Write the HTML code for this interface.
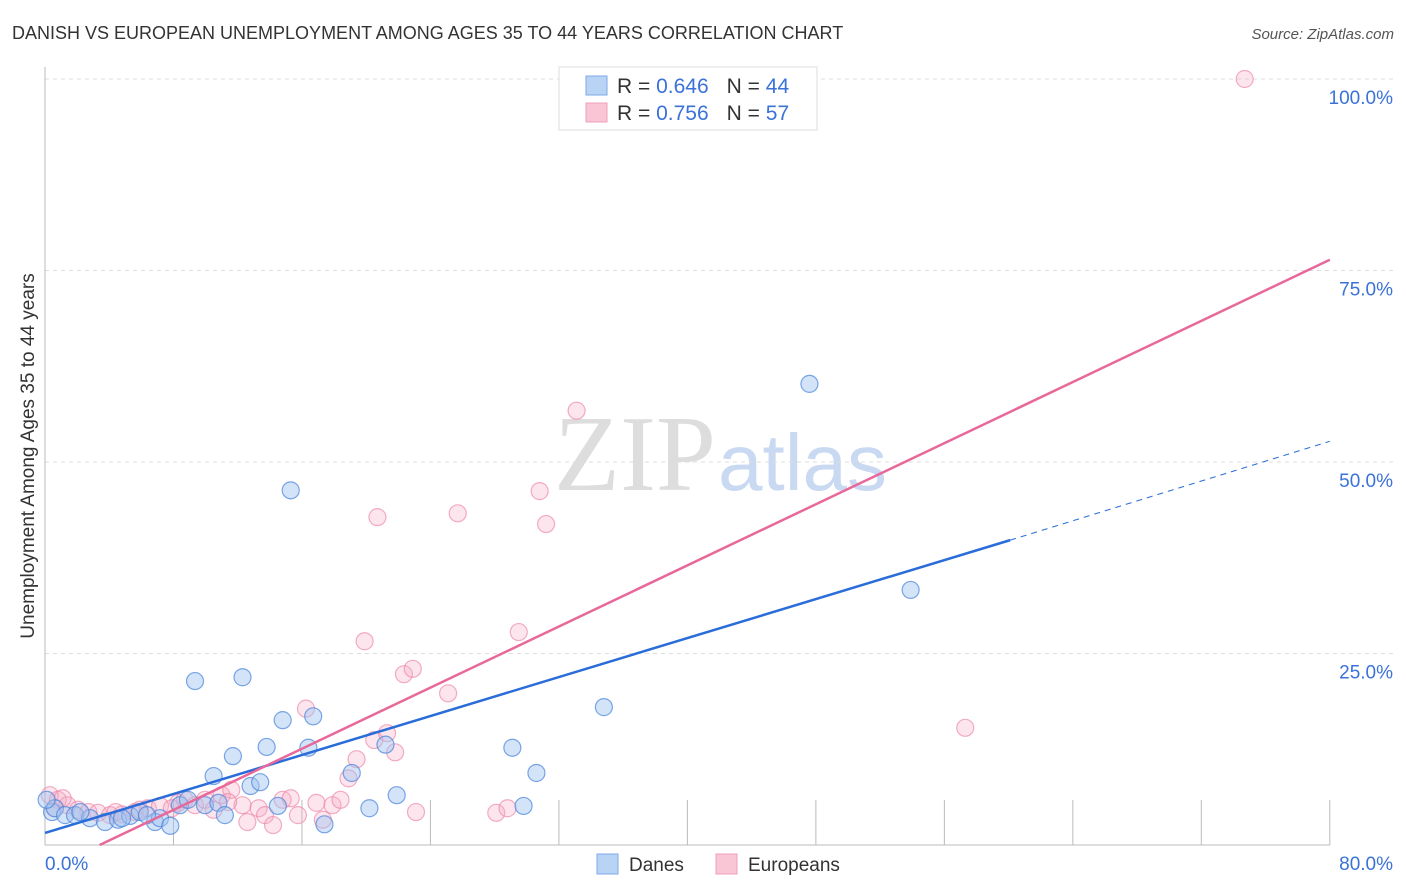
<!DOCTYPE html>
<html><head><meta charset="utf-8"><style>
body{margin:0;background:#fff;font-family:"Liberation Sans",sans-serif;}
#c{position:absolute;left:0;top:0;}
</style></head><body>
<svg id="c" width="1406" height="892">
<text x="12" y="39" font-size="18" fill="#333">DANISH VS EUROPEAN UNEMPLOYMENT AMONG AGES 35 TO 44 YEARS CORRELATION CHART</text>
<text x="1394" y="39" font-size="15" fill="#555" font-style="italic" text-anchor="end">Source: ZipAtlas.com</text>
<text x="716" y="490" font-size="108" fill="#ddd" text-anchor="end" font-family="Liberation Serif,serif">ZIP</text>
<text x="718" y="490" font-size="80" fill="#c9d9f2">atlas</text>
<g id="grid"></g><g id="axes"></g><g id="pts"></g><g id="lines"></g>
<g>
<rect x="559" y="67" width="258" height="63" fill="#fff" stroke="#ddd"/>
<rect x="586" y="76" width="21" height="19" fill="#b9d3f5" stroke="#7ea9e8"/>
<rect x="586" y="103" width="21" height="19" fill="#f9c6d6" stroke="#ef9fbb"/>
<text x="617" y="93" font-size="21" fill="#333">R = <tspan fill="#3a72d8">0.646</tspan><tspan dx="18">N = </tspan><tspan fill="#3a72d8">44</tspan></text>
<text x="617" y="120" font-size="21" fill="#333">R = <tspan fill="#3a72d8">0.756</tspan><tspan dx="18">N = </tspan><tspan fill="#3a72d8"> 57</tspan></text>
</g>
<g>
<rect x="597" y="854" width="21" height="20" fill="#b9d3f5" stroke="#7ea9e8"/>
<text x="629" y="871" font-size="19" fill="#333">Danes</text>
<rect x="716" y="854" width="21" height="20" fill="#f9c6d6" stroke="#ef9fbb"/>
<text x="748" y="871" font-size="19" fill="#333">Europeans</text>
</g>
<text x="34" y="456" font-size="19" fill="#333" text-anchor="middle" transform="rotate(-90 34 456)">Unemployment Among Ages 35 to 44 years</text>
</svg>
<script>
const yTicks=[25,50,75,100];
const yTickLabels=["25.0%","50.0%","75.0%","100.0%"];
const xTicks=[0,8,16,24,32,40,48,56,64,72,80];
const xEndLabels=["0.0%","80.0%"];
const danesX=[0.44,0.62,1.25,1.87,2.8,3.74,4.55,5.3,5.9,6.85,7.16,7.8,8.4,8.9,9.34,9.96,10.5,10.8,11.2,11.7,12.3,12.8,13.4,13.8,14.5,14.8,15.3,16.4,16.7,17.4,19.1,20.2,21.2,21.9,29.1,29.8,30.6,34.8,47.6,53.9,0.1,2.2,4.8,6.35];
const danesY=[4.3,4.8,3.9,3.9,3.5,3.0,3.3,3.8,4.3,3.0,3.5,2.5,5.2,5.9,21.4,5.2,9.0,5.5,3.9,11.6,21.9,7.7,8.2,12.8,5.1,16.3,46.3,12.7,16.8,2.7,9.4,4.8,13.1,6.5,12.7,5.1,9.4,18.0,60.2,33.3,5.9,4.3,3.5,3.9];
const euroX=[0.3,0.8,1.4,2.05,2.7,3.3,4.05,4.8,5.6,6.4,7.16,7.9,8.7,9.34,9.96,10.5,11.0,11.6,12.3,12.6,13.3,13.7,14.2,14.8,15.3,15.75,16.25,16.9,17.3,17.9,18.4,18.9,19.4,19.9,20.5,20.7,21.3,21.8,22.35,22.9,23.1,25.1,25.7,28.1,28.8,29.5,30.8,31.2,33.1,57.3,74.7,4.4,5.9,8.3,11.4,0.6,1.1];
const euroY=[6.5,5.9,5.2,4.6,4.3,4.2,3.9,4.0,4.3,4.8,5.1,4.8,5.9,5.2,5.9,4.6,6.5,7.2,5.2,3.0,4.8,3.9,2.6,5.9,6.1,3.9,17.8,5.5,3.3,5.2,5.9,8.7,11.2,26.6,13.7,42.8,14.6,12.1,22.3,23.0,4.3,19.8,43.3,4.2,4.8,27.8,46.2,41.9,56.7,15.3,100,4.3,4.6,5.5,5.6,4.8,6.1];
const danesTrend=[[0,1.57],[60.1,39.8],[80,52.7]];
const euroTrend=[[3.4,0],[80,76.4]];
const X=v=>45+v*16.06, Y=v=>845-v*7.66;
const NS="http://www.w3.org/2000/svg";
function mk(tag,at,parent){const e=document.createElementNS(NS,tag);for(const k in at)e.setAttribute(k,at[k]);document.getElementById(parent).appendChild(e);return e;}
yTicks.forEach((t,i)=>{
 const g=mk('line',{x1:45,x2:1393,y1:Y(t),y2:Y(t),stroke:'#ddd','stroke-dasharray':'4,4'},'grid');
 
 
 const l=mk('text',{x:1393,y:Y(t)+25,'font-size':19,fill:'#3a72d8','text-anchor':'end'},'axes');
 l.textContent=yTickLabels[i];
 
 
});
const yl=mk('line',{x1:45,x2:45,y1:67,y2:845,stroke:'#bbb'},'axes');


const xl=mk('line',{x1:45,x2:1330,y1:845,y2:845,stroke:'#bbb'},'axes');


xTicks.forEach(t=>{
 const tk=mk('line',{x1:X(t),x2:X(t),y1:800,y2:845,stroke:'#bbb'},'axes');
 
 
});
[[0,'start',45],[80,'end',1393]].forEach((d,i)=>{
 const t=mk('text',{x:d[2],y:870,'font-size':19,fill:'#3a72d8','text-anchor':d[1]},'axes');
 t.textContent=xEndLabels[i];
 
 
});
euroX.forEach((x,i)=>{
 const c=mk('circle',{cx:X(x),cy:Y(euroY[i]),r:8.5,fill:'rgba(246,170,196,0.3)',stroke:'rgba(236,130,168,0.65)','stroke-width':1.2},'pts');
 
 
});
danesX.forEach((x,i)=>{
 const c=mk('circle',{cx:X(x),cy:Y(danesY[i]),r:8.5,fill:'rgba(160,196,240,0.45)',stroke:'rgba(70,130,220,0.7)','stroke-width':1.2},'pts');
 
 
});
const b1=mk('line',{x1:X(danesTrend[0][0]),y1:Y(danesTrend[0][1]),x2:X(danesTrend[1][0]),y2:Y(danesTrend[1][1]),stroke:'#2a6dd9','stroke-width':2.5},'lines');


const b2=mk('line',{x1:X(danesTrend[1][0]),y1:Y(danesTrend[1][1]),x2:X(danesTrend[2][0]),y2:Y(danesTrend[2][1]),stroke:'#2a6dd9','stroke-width':1,'stroke-dasharray':'6,5'},'lines');


const p1=mk('line',{x1:X(euroTrend[0][0]),y1:Y(euroTrend[0][1]),x2:X(euroTrend[1][0]),y2:Y(euroTrend[1][1]),stroke:'#e8689a','stroke-width':2.5},'lines');


</script>
</body></html>
